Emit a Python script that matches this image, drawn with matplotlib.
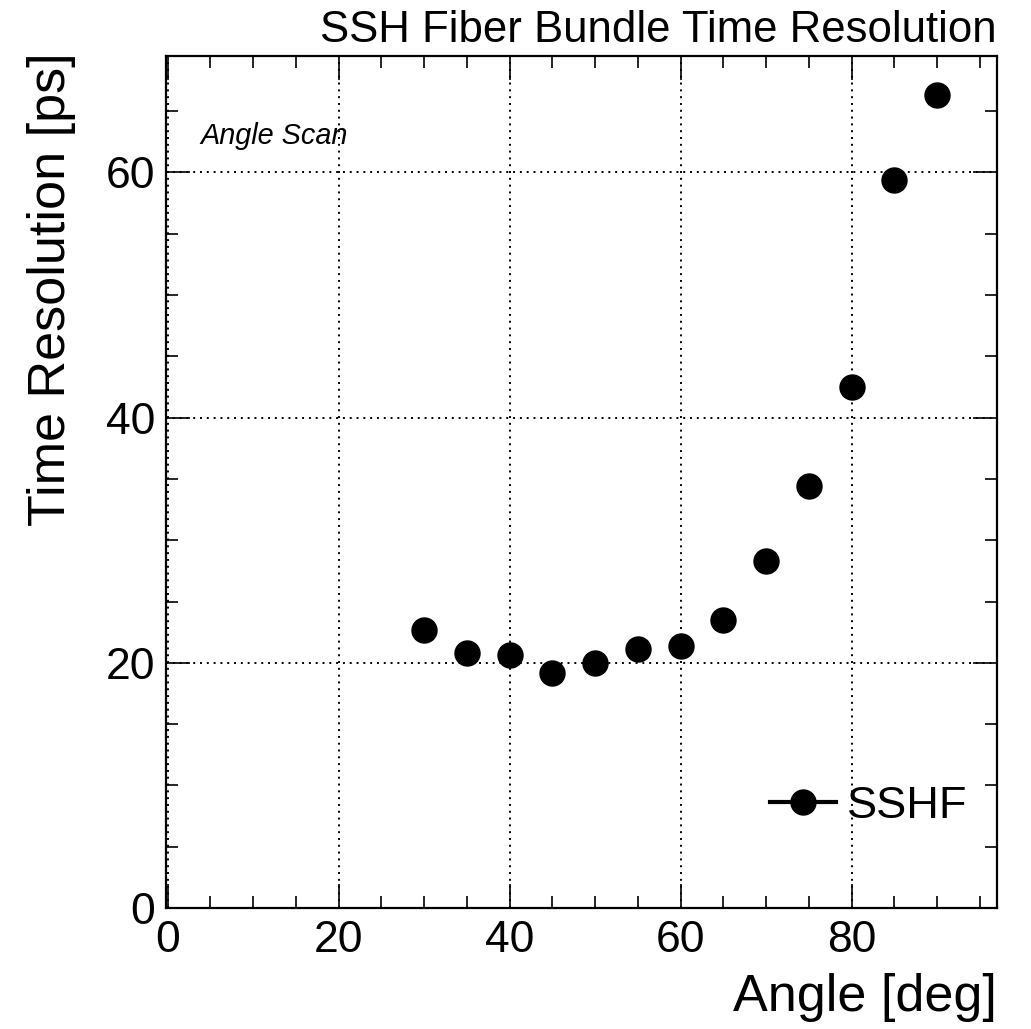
import matplotlib
matplotlib.use("Agg")
import matplotlib.pyplot as plt
from matplotlib.lines import Line2D
from matplotlib.ticker import MultipleLocator

plt.rcParams['font.family'] = ['Liberation Sans', 'DejaVu Sans']

# angle scan data
angles = [30, 35, 40, 45, 50, 55, 60, 65, 70, 75, 80, 85, 90]
resolution = [22.7, 20.8, 20.6, 19.2, 20.0, 21.1, 21.4, 23.5, 28.3, 34.4, 42.5, 59.4, 66.3]
series_name = "SSHF"

W, H = 1031, 1029
fig = plt.figure(figsize=(W / 100, H / 100), dpi=100)
ax = fig.add_axes([166 / W, 1 - 908 / H, (997 - 166) / W, (908 - 56) / H])

ax.plot(angles, resolution, linestyle='none', marker='o', markersize=18,
        color='black', zorder=3)

ax.set_xlim(-0.2, 97)
ax.set_ylim(0, 69.5)
ax.xaxis.set_major_locator(MultipleLocator(20))
ax.xaxis.set_minor_locator(MultipleLocator(5))
ax.yaxis.set_major_locator(MultipleLocator(20))
ax.yaxis.set_minor_locator(MultipleLocator(5))
ax.tick_params(which='both', direction='in', top=True, right=True,
               labelsize=32, width=1.2)
ax.tick_params(which='major', length=17)
ax.tick_params(which='minor', length=8.5)
ax.tick_params(axis='x', pad=9)
ax.tick_params(axis='y', pad=8)
for s in ax.spines.values():
    s.set_linewidth(1.6)
ax.grid(True, which='major', color='black', linestyle=(0, (1, 2.5)), linewidth=1.4)

# ROOT-style labels, right aligned
fig.text(997 / W, 1 - 30 / H, "SSH Fiber Bundle Time Resolution", fontsize=31.5,
         ha='right', va='center')
fig.text(997 / W, 1 - 998 / H, "Angle [deg]", fontsize=37.5, ha='right', va='center')
fig.text(52 / W, 1 - 52 / H, "Time Resolution [ps]", fontsize=37.5, rotation=90,
         ha='center', va='top')
ax.text(200 / W, 1 - 136 / H, "Angle Scan", fontsize=20.8, style='italic',
        transform=fig.transFigure, va='center', ha='left')

handle = Line2D([], [], color='black', linewidth=3, marker='o', markersize=18)
ax.legend([handle], [series_name], loc='center right', frameon=False,
          fontsize=32.5, bbox_to_anchor=(990 / W, 1 - 806 / H),
          bbox_transform=fig.transFigure, handlelength=1.45, handletextpad=0.25,
          borderpad=0)

fig.savefig("out.png", dpi=100)
